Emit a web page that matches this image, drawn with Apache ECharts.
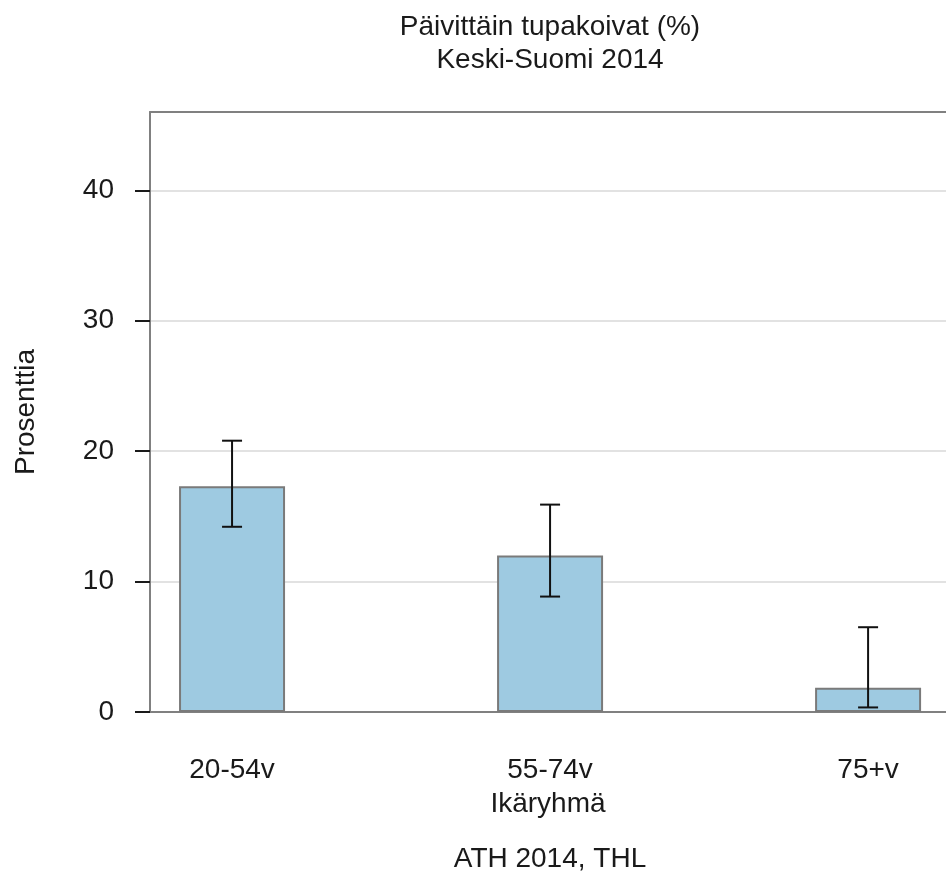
<!DOCTYPE html>
<html>
<head>
<meta charset="utf-8">
<script src="https://cdn.jsdelivr.net/npm/echarts@6/dist/echarts.min.js"></script>
<style>
  html, body { margin: 0; padding: 0; background: #fff; }
  #chart { width: 946px; height: 874px; }
</style>
</head>
<body>
<div id="chart"></div>
<script>
// ikäryhmät ja arvot (%)
const ryhmat = ['20-54v', '55-74v', '75+v'];
const osuus = [17.3, 12.0, 1.85];
const alaraja = [14.2, 8.85, 0.35];
const ylaraja = [20.8, 15.9, 6.5];
const yTicks = [0, 10, 20, 30, 40];

const fontti = 'Liberation Sans, Arial, sans-serif';
const teksti = '#1a1a1a';
const reuna = { show: true, lineStyle: { color: '#808080', width: 2 } };

const pylvaat = ryhmat.map((r, i) => [i + 1, osuus[i]]);
const virheet = ryhmat.map((r, i) => [i + 1, alaraja[i], ylaraja[i]]);

// kuva-alue jatkuu oikean reunan yli, joten x-akseli rajataan käsin
const xMin = 0.742;
const xMax = 3.245;

var chart = echarts.init(document.getElementById('chart'));

chart.setOption({
    animation: false,
    title: {
        text: 'Päivittäin tupakoivat (%)\nKeski-Suomi 2014',
        left: 550,
        top: 11,
        textAlign: 'center',
        padding: 0,
        textStyle: { fontFamily: fontti, fontSize: 28, fontWeight: 'normal', color: teksti, lineHeight: 33 }
    },
    graphic: [{
        type: 'text',
        x: 550,
        y: 859,
        style: {
            text: 'ATH 2014, THL',
            fontFamily: fontti, fontSize: 28, fill: teksti,
            align: 'center', verticalAlign: 'middle'
        }
    }],
    grid: { left: 150, top: 112, right: 0, bottom: 162 },
    xAxis: [{
        type: 'value',
        min: xMin,
        max: xMax,
        name: 'Ikäryhmä',
        nameLocation: 'middle',
        nameGap: 78,
        nameTextStyle: { fontFamily: fontti, fontSize: 28, color: teksti },
        axisLine: reuna,
        axisTick: { show: false },
        splitLine: { show: false },
        axisLabel: {
            customValues: [1, 2, 3],
            formatter: v => ryhmat[Math.round(v) - 1] || '',
            margin: 44,
            fontFamily: fontti, fontSize: 28, color: teksti
        }
    }, {
        // yläreuna
        type: 'value',
        position: 'top',
        min: xMin,
        max: xMax,
        axisLine: reuna,
        axisTick: { show: false },
        axisLabel: { show: false },
        splitLine: { show: false }
    }],
    yAxis: {
        type: 'value',
        min: 0,
        max: 46,
        name: 'Prosenttia',
        nameLocation: 'middle',
        nameGap: 110,
        nameTextStyle: { fontFamily: fontti, fontSize: 28, color: teksti },
        axisLine: reuna,
        axisTick: { show: true, customValues: yTicks, length: 15, lineStyle: { color: '#1a1a1a', width: 2 } },
        splitLine: { show: true, lineStyle: { color: '#d9d9d9', width: 1.5 } },
        axisLabel: {
            customValues: yTicks,
            margin: 36,
            fontFamily: fontti, fontSize: 28, color: teksti
        }
    },
    series: [
        {
            name: 'Osuus',
            type: 'bar',
            data: pylvaat,
            barWidth: 106,
            itemStyle: { color: '#9ecae1', borderColor: '#7a7a7a', borderWidth: 2 },
            z: 2
        },
        {
            name: 'Luottamusväli',
            type: 'custom',
            data: virheet,
            z: 3,
            renderItem: function(params, api) {
                const x = api.value(0);
                const ala = api.coord([x, api.value(1)]);
                const yla = api.coord([x, api.value(2)]);
                const puoli = 10;
                const tyyli = { stroke: '#111', lineWidth: 2 };
                return {
                    type: 'group',
                    children: [
                        { type: 'line', shape: { x1: ala[0], y1: ala[1], x2: yla[0], y2: yla[1] }, style: tyyli },
                        { type: 'line', shape: { x1: yla[0] - puoli, y1: yla[1], x2: yla[0] + puoli, y2: yla[1] }, style: tyyli },
                        { type: 'line', shape: { x1: ala[0] - puoli, y1: ala[1], x2: ala[0] + puoli, y2: ala[1] }, style: tyyli }
                    ]
                };
            }
        }
    ]
});
</script>
</body>
</html>
